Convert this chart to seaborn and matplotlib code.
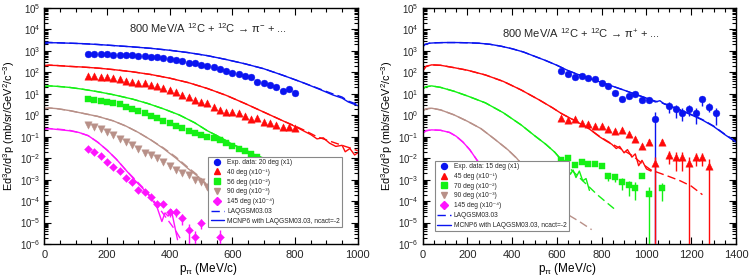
import numpy as np
import pandas as pd
import matplotlib
matplotlib.use("Agg")
import matplotlib.pyplot as plt
import seaborn as sns
from matplotlib.lines import Line2D
from matplotlib.ticker import MultipleLocator, LogLocator, NullFormatter

# ---------------- data (log10 of the cross sections) ----------------
# Left panel: pi-
L_p_exp20 = [140, 160, 180, 200, 220, 240, 260, 280, 300, 320, 340, 360, 380, 400, 420, 440, 460,
             480, 500, 520, 540, 560, 580, 600, 620, 640, 660, 680, 700, 720, 740, 760, 780, 800]
L_lg_exp20 = [2.85, 2.85, 2.85, 2.84, 2.82, 2.82, 2.80, 2.79, 2.76, 2.76, 2.73, 2.70, 2.66, 2.60, 2.57,
              2.51, 2.45, 2.42, 2.36, 2.29, 2.23, 2.17, 2.05, 1.95, 1.92, 1.83, 1.77, 1.56, 1.52, 1.41,
              1.33, 1.15, 1.24, 1.05]
L_p_exp40 = L_p_exp20
L_lg_exp40 = [1.84, 1.83, 1.80, 1.77, 1.72, 1.67, 1.60, 1.56, 1.52, 1.49, 1.41, 1.36, 1.25, 1.18, 1.10,
              0.94, 0.84, 0.71, 0.63, 0.56, 0.40, 0.25, 0.17, 0.17, 0.09, -0.03, -0.19, -0.14, -0.30,
              -0.37, -0.45, -0.53, -0.56, -0.61]
L_p_exp56 = [140, 160, 180, 200, 220, 240, 260, 280, 300, 320, 340, 360, 380, 400, 420, 440, 460,
             480, 500, 520, 540, 560, 580, 600, 620, 640, 660, 680]
L_lg_exp56 = [0.76, 0.71, 0.66, 0.62, 0.56, 0.51, 0.40, 0.29, 0.21, 0.09, -0.03, -0.14, -0.25, -0.37,
              -0.50, -0.61, -0.72, -0.84, -0.92, -0.99, -1.07, -1.17, -1.30, -1.42, -1.55, -1.68,
              -1.82, -1.95]
L_p_exp90 = [140, 160, 180, 200, 220, 240, 260, 280, 300, 320, 340, 360, 380, 400, 420, 440, 460,
             480, 500, 520]
L_lg_exp90 = [-0.45, -0.53, -0.65, -0.79, -0.92, -1.12, -1.23, -1.38, -1.58, -1.74, -1.85, -2.00,
              -2.20, -2.35, -2.54, -2.67, -2.78, -3.01, -3.09, -3.35]
L_p_exp145 = [140, 160, 180, 200, 220, 240, 260, 280, 300, 320, 340, 360, 380, 400, 420, 440, 460,
              480, 500, 560]
L_lg_exp145 = [-1.57, -1.72, -1.92, -2.19, -2.39, -2.59, -2.93, -3.12, -3.47, -3.58, -3.82, -4.13,
               -4.13, -4.53, -4.53, -4.79, -5.37, -5.68, -5.00, -5.65]
L_rel_exp145 = [0, 0, 0, 0, 0, 0, 0, 0, 0, 0, 0, 0, 0.3, 0.4, 0.4, 0.5, 1.0, 1.0, 0.5, 1.0]

# model curves, left
L_p_m20 = [0, 15, 40, 80, 120, 170, 220, 280, 340, 400, 460, 520, 580, 640, 700, 760, 820, 880, 920,
           950, 970, 1000]
L_lg_mc20 = [3.32, 3.38, 3.38, 3.36, 3.34, 3.30, 3.25, 3.19, 3.12, 3.03, 2.92, 2.78, 2.60, 2.40, 2.17,
             1.87, 1.55, 1.20, 0.95, 0.80, 0.62, 0.45]
L_lg_lq20 = [3.40, 3.40, 3.38, 3.36, 3.34, 3.30, 3.25, 3.19, 3.12, 3.03, 2.92, 2.78, 2.60, 2.40, 2.17,
             1.87, 1.55, 1.22, 1.00, 0.85, 0.66, 0.50]
L_p_m40 = [0, 15, 40, 80, 120, 170, 220, 280, 340, 400, 460, 520, 580, 640, 700, 760, 800, 830, 850,
           870, 890, 910, 930, 950, 960, 975, 990, 1000]
L_lg_mc40 = [2.30, 2.33, 2.32, 2.28, 2.25, 2.20, 2.13, 2.03, 1.90, 1.73, 1.52, 1.25, 0.93, 0.55, 0.15,
             -0.25, -0.52, -0.75, -0.90, -1.10, -1.05, -1.30, -1.45, -1.40, -1.70, -1.55, -1.85, -1.75]
L_lg_lq40 = [2.32, 2.34, 2.32, 2.28, 2.25, 2.20, 2.13, 2.03, 1.90, 1.73, 1.52, 1.25, 0.93, 0.55, 0.15,
             -0.25, -0.50, -0.70, -0.85, -1.00, -1.10, -1.20, -1.30, -1.40, -1.45, -1.52, -1.60, -1.65]
L_p_m56 = [0, 15, 40, 80, 120, 170, 220, 280, 330, 380, 430, 480, 520, 560, 600, 640, 680, 700, 720]
L_lg_mc56 = [1.33, 1.37, 1.35, 1.30, 1.22, 1.10, 0.96, 0.76, 0.55, 0.30, 0.02, -0.35, -0.72, -1.02,
             -1.35, -1.62, -1.90, -2.05, -2.20]
L_lg_lq56 = [1.35, 1.37, 1.35, 1.30, 1.22, 1.10, 0.96, 0.76, 0.55, 0.30, 0.02, -0.35, -0.72, -1.02,
             -1.35, -1.62, -1.88, -2.00, -2.15]
L_p_m90 = [0, 15, 40, 80, 120, 170, 220, 260, 300, 340, 380, 420, 460, 490, 520, 540]
L_lg_mc90 = [0.30, 0.34, 0.31, 0.22, 0.10, -0.05, -0.26, -0.50, -0.80, -1.15, -1.55, -2.00, -2.50,
             -2.85, -3.30, -3.55]
L_lg_lq90 = [0.32, 0.34, 0.31, 0.22, 0.10, -0.05, -0.26, -0.50, -0.80, -1.15, -1.52, -1.95, -2.45,
             -2.80, -3.25, -3.50]
L_p_mc145 = [0, 15, 40, 80, 110, 140, 170, 200, 230, 260, 290, 320, 340, 360, 375, 385, 395, 405, 415,
             425]
L_lg_mc145 = [-0.66, -0.62, -0.66, -0.72, -0.80, -0.95, -1.25, -1.62, -2.05, -2.55, -3.05, -3.50,
              -3.85, -4.30, -4.95, -4.55, -4.70, -4.40, -5.10, -5.80]
L_p_lq145 = [0, 15, 40, 80, 110, 140, 170, 200, 230, 260, 290, 320, 340, 360, 380, 400, 420, 440]
L_lg_lq145 = [-0.62, -0.62, -0.64, -0.70, -0.80, -0.95, -1.25, -1.62, -2.05, -2.55, -3.00, -3.45,
              -3.80, -4.20, -4.60, -5.00, -5.40, -5.90]

# Right panel: pi+
R_p_exp15 = [620, 650, 680, 710, 740, 770, 800, 830, 860, 890, 920, 950, 980, 1010, 1040, 1100, 1130,
             1160, 1190, 1220, 1250, 1280, 1310]
R_lg_exp15 = [2.06, 1.92, 1.80, 1.83, 1.72, 1.67, 1.50, 1.36, 1.02, 0.74, 0.90, 0.98, 0.71, 0.69,
              -0.15, 0.42, 0.28, 0.12, 0.28, 0.12, 0.74, 0.40, 0.09]
R_rel_exp15 = [0, 0, 0, 0, 0, 0, 0, 0, 0, 0.2, 0, 0.2, 0.2, 0.2, 1.0, 0.5, 0.6, 0.6, 0.5, 0.7, 0.5,
               0.45, 0.7]
R_p_exp45 = [620, 650, 680, 710, 740, 770, 800, 830, 860, 890, 920, 950, 980, 1010, 1040, 1070, 1100,
             1130, 1160, 1190, 1220, 1250, 1280]
R_lg_exp45 = [-0.12, -0.20, -0.18, -0.34, -0.40, -0.50, -0.52, -0.62, -0.74, -0.68, -0.87, -1.10,
              -1.43, -1.23, -2.23, -1.23, -1.85, -1.95, -1.95, -2.23, -1.95, -1.95, -2.36]
R_rel_exp45 = [0, 0, 0, 0, 0, 0, 0, 0, 0, 0, 0, 0.2, 0, 0.3, 1.0, 0.3, 0.6, 0.78, 0.78, 1.0, 0.6, 0.6,
               1.0]
R_p_exp70 = [620, 650, 680, 710, 740, 770, 800, 830, 860, 890, 920, 950, 980, 1010, 1070]
R_lg_exp70 = [-2.10, -2.00, -2.31, -2.20, -2.26, -2.27, -2.36, -2.82, -2.88, -3.12, -3.27, -3.37,
              -2.82, -3.66, -3.40]
R_rel_exp70 = [0, 0, 0, 0, 0, 0, 0, 0.4, 0.4, 0.56, 0.68, 0.74, 0, 1.0, 0.74]

R_p_m15 = [0, 10, 30, 60, 100, 150, 200, 250, 300, 350, 400, 450, 500, 550, 600, 650, 700, 750, 800,
           850, 900, 950, 1000, 1040, 1060, 1080, 1100, 1150, 1200, 1250, 1300, 1350, 1400]
R_lg_mc15 = [3.18, 3.30, 3.36, 3.38, 3.39, 3.39, 3.38, 3.36, 3.31, 3.22, 3.10, 2.95, 2.75, 2.55, 2.33,
             2.08, 1.88, 1.70, 1.53, 1.35, 1.17, 0.98, 0.80, 0.62, 0.68, 0.52, 0.46, 0.24, 0.02, -0.22,
             -0.52, -0.90, -1.25]
R_lg_lq15 = [3.22, 3.30, 3.36, 3.38, 3.39, 3.39, 3.38, 3.36, 3.31, 3.22, 3.10, 2.95, 2.75, 2.55, 2.33,
             2.08, 1.88, 1.70, 1.53, 1.35, 1.17, 0.98, 0.80, 0.66, 0.60, 0.54, 0.48, 0.26, 0.04, -0.20,
             -0.50, -0.88, -1.22]
R_p_mc45 = [0, 15, 40, 80, 140, 200, 280, 360, 440, 520, 580, 620, 680, 740, 790, 820, 845, 865, 880,
            900, 915, 935, 950, 965, 980, 1000, 1020]
R_lg_mc45 = [2.05, 2.28, 2.35, 2.33, 2.22, 2.10, 1.88, 1.58, 1.18, 0.72, 0.35, 0.08, -0.25, -0.60,
             -1.00, -1.20, -1.35, -1.55, -1.45, -1.75, -1.60, -1.95, -1.80, -2.35, -2.10, -2.50, -2.60]
R_p_lq45 = [0, 15, 40, 80, 140, 200, 280, 360, 440, 520, 580, 620, 680, 740, 790, 840, 900, 940, 980,
            1020, 1060, 1100, 1150, 1200, 1250]
R_lg_lq45 = [2.10, 2.28, 2.35, 2.33, 2.22, 2.10, 1.88, 1.58, 1.18, 0.72, 0.35, 0.08, -0.25, -0.60,
             -0.98, -1.30, -1.65, -1.90, -2.25, -2.55, -2.70, -2.85, -3.05, -3.30, -3.70]
R_p_mc70 = [0, 15, 40, 80, 140, 200, 280, 360, 440, 500, 550, 590, 610, 625, 635, 650, 660, 672, 685,
            700, 715, 730, 745]
R_lg_mc70 = [1.22, 1.33, 1.37, 1.30, 1.12, 0.90, 0.58, 0.12, -0.45, -0.95, -1.35, -1.72, -1.95, -2.25,
             -2.10, -2.50, -2.75, -2.55, -2.90, -2.60, -3.05, -2.95, -3.50]
R_p_lq70 = [0, 15, 40, 80, 140, 200, 280, 360, 440, 500, 550, 590, 620, 660, 700, 740, 780, 820, 855]
R_lg_lq70 = [1.25, 1.33, 1.37, 1.30, 1.12, 0.90, 0.58, 0.12, -0.45, -0.95, -1.35, -1.72, -2.10, -2.50,
             -2.90, -3.30, -3.70, -4.05, -4.35]
R_p_mc90 = [0, 15, 40, 80, 140, 200, 260, 320, 380, 420, 460, 500, 540, 580, 620]
R_lg_mc90 = [0.20, 0.30, 0.33, 0.25, 0.02, -0.28, -0.62, -1.10, -1.60, -2.00, -2.50, -3.00, -3.50,
             -3.95, -4.40]
R_p_lq90 = [0, 15, 40, 80, 140, 200, 260, 320, 380, 420, 460, 500, 540, 580, 620, 660, 700, 755]
R_lg_lq90 = [0.22, 0.30, 0.33, 0.25, 0.02, -0.28, -0.62, -1.10, -1.60, -2.00, -2.50, -3.00, -3.50,
             -3.95, -4.40, -4.70, -4.95, -5.33]
R_p_m145 = [0, 15, 40, 80, 120, 150, 180, 210, 240, 270, 310, 350, 390, 430]
R_lg_mc145 = [-0.85, -0.72, -0.68, -0.70, -0.80, -0.98, -1.25, -1.60, -2.05, -2.50, -3.10, -3.70,
              -4.25, -4.85]
R_lg_lq145 = [-0.82, -0.72, -0.68, -0.70, -0.80, -0.98, -1.25, -1.60, -2.05, -2.50, -3.10, -3.70,
              -4.25, -4.85]

# ---------------- style ----------------
sns.set_theme(style="ticks")
plt.rcParams['font.family'] = ['Liberation Sans', 'DejaVu Sans']
plt.rcParams['mathtext.fontset'] = 'custom'
plt.rcParams['mathtext.rm'] = 'Liberation Sans'
plt.rcParams['mathtext.it'] = 'Liberation Sans:italic'
plt.rcParams['mathtext.bf'] = 'Liberation Sans:bold'
plt.rcParams['mathtext.sf'] = 'Liberation Sans'

BLUE = '#0a14f0'
RED = '#ff0a0a'
GREEN = '#14f014'
BROWN = '#b89088'
MAGENTA = '#ff14ff'
DASH = (0, (6, 3))
LW = 1.0


def draw_line(ax, p, lg, color, style):
    df = pd.DataFrame({"p": p, "y": np.power(10.0, np.array(lg))})
    sns.lineplot(data=df, x="p", y="y", ax=ax, color=color, linewidth=LW, linestyle=style,
                 estimator=None, sort=False, legend=False, zorder=2)


def draw_exp(ax, p, lg, color, marker, size, rel=None):
    v = np.power(10.0, np.array(lg))
    p = np.array(p, dtype=float)
    if rel is not None:
        r = np.array(rel, dtype=float)
        m = r > 0
        lo = np.where(r >= 1.0, v - 1e-8, v * r)
        hi = v * r
        ax.errorbar(p[m], v[m], yerr=[lo[m], hi[m]], fmt='none', ecolor=color, elinewidth=1.0,
                    capsize=0, zorder=3)
    df = pd.DataFrame({"p": p, "y": v})
    sns.scatterplot(data=df, x="p", y="y", ax=ax, marker=marker, s=size, color=color,
                    edgecolor=color, linewidth=0.3, zorder=4, legend=False)


fig = plt.figure(figsize=(7.5, 2.79), dpi=100)
axL = fig.add_axes([0.0591, 0.1254, 0.4179, 0.8459])
axR = fig.add_axes([0.5636, 0.1254, 0.4177, 0.8459])

for ax in (axL, axR):
    ax.set_yscale('log')

# left panel
draw_line(axL, L_p_m20, L_lg_lq20, BLUE, DASH)
draw_line(axL, L_p_m20, L_lg_mc20, BLUE, '-')
draw_line(axL, L_p_m40, L_lg_lq40, RED, DASH)
draw_line(axL, L_p_m40, L_lg_mc40, RED, '-')
draw_line(axL, L_p_m56, L_lg_lq56, GREEN, DASH)
draw_line(axL, L_p_m56, L_lg_mc56, GREEN, '-')
draw_line(axL, L_p_m90, L_lg_lq90, BROWN, DASH)
draw_line(axL, L_p_m90, L_lg_mc90, BROWN, '-')
draw_line(axL, L_p_lq145, L_lg_lq145, MAGENTA, DASH)
draw_line(axL, L_p_mc145, L_lg_mc145, MAGENTA, '-')
draw_exp(axL, L_p_exp20, L_lg_exp20, BLUE, 'o', 24)
draw_exp(axL, L_p_exp40, L_lg_exp40, RED, '^', 28)
draw_exp(axL, L_p_exp56, L_lg_exp56, GREEN, 's', 18)
draw_exp(axL, L_p_exp90, L_lg_exp90, BROWN, 'v', 28)
draw_exp(axL, L_p_exp145, L_lg_exp145, MAGENTA, 'D', 16, L_rel_exp145)

# right panel
draw_line(axR, R_p_m15, R_lg_lq15, BLUE, DASH)
draw_line(axR, R_p_m15, R_lg_mc15, BLUE, '-')
draw_line(axR, R_p_lq45, R_lg_lq45, RED, DASH)
draw_line(axR, R_p_mc45, R_lg_mc45, RED, '-')
draw_line(axR, R_p_lq70, R_lg_lq70, GREEN, DASH)
draw_line(axR, R_p_mc70, R_lg_mc70, GREEN, '-')
draw_line(axR, R_p_lq90, R_lg_lq90, BROWN, DASH)
draw_line(axR, R_p_mc90, R_lg_mc90, BROWN, '-')
draw_line(axR, R_p_m145, R_lg_lq145, MAGENTA, DASH)
draw_line(axR, R_p_m145, R_lg_mc145, MAGENTA, '-')
draw_exp(axR, R_p_exp15, R_lg_exp15, BLUE, 'o', 24, R_rel_exp15)
draw_exp(axR, R_p_exp45, R_lg_exp45, RED, '^', 28, R_rel_exp45)
draw_exp(axR, R_p_exp70, R_lg_exp70, GREEN, 's', 18, R_rel_exp70)

for ax, xmax in ((axL, 1000), (axR, 1400)):
    ax.set_xlim(0, xmax)
    ax.set_ylim(1e-6, 1e5)
    ax.xaxis.set_major_locator(MultipleLocator(200))
    ax.xaxis.set_minor_locator(MultipleLocator(50))
    ax.yaxis.set_major_locator(LogLocator(base=10, numticks=30))
    ax.yaxis.set_minor_locator(LogLocator(base=10, subs=np.arange(2, 10), numticks=30))
    ax.yaxis.set_minor_formatter(NullFormatter())
    ax.tick_params(which='both', direction='in', top=True, right=True, width=0.8, color='black')
    ax.tick_params(which='major', length=5)
    ax.tick_params(which='minor', length=3)
    ax.tick_params(axis='x', labelsize=8, pad=4)
    ax.tick_params(axis='y', labelsize=7, pad=3)
    for s in ax.spines.values():
        s.set_color('black')
        s.set_linewidth(1.0)
    ax.set_ylabel("Ed$^{3}$σ/d$^{3}$p (mb/sr/GeV$^{2}$/c$^{-3}$)", fontsize=7.8, color='black')
    ax.set_xlabel("p$_{\\mathrm{π}}$ (MeV/c)", fontsize=8.5, color='black')

axL.yaxis.set_label_coords(-0.086, 0.5)
axR.yaxis.set_label_coords(-0.089, 0.5)
axL.xaxis.set_label_coords(0.522, -0.072)
axR.xaxis.set_label_coords(0.46, -0.072)

axL.text(0.522, 0.914, "800 MeV/A $^{12}$C + $^{12}$C → π$^{-}$ + ...", transform=axL.transAxes,
         ha='center', va='center', fontsize=8)
axR.text(0.504, 0.895, "800 MeV/A $^{12}$C + $^{12}$C → π$^{+}$ + ...", transform=axR.transAxes,
         ha='center', va='center', fontsize=8)


def make_legend(ax, labels, anchor):
    handles = [
        Line2D([], [], ls='none', marker='o', color=BLUE, markersize=4.3),
        Line2D([], [], ls='none', marker='^', color=RED, markersize=4.6),
        Line2D([], [], ls='none', marker='s', color=GREEN, markersize=3.8),
        Line2D([], [], ls='none', marker='v', color=BROWN, markersize=4.6),
        Line2D([], [], ls='none', marker='D', color=MAGENTA, markersize=3.6),
        Line2D([], [], color=BLUE, ls=DASH, lw=LW),
        Line2D([], [], color=BLUE, ls='-', lw=LW),
    ]
    leg = ax.legend(handles, labels, loc='upper left', bbox_to_anchor=anchor,
                    prop={'family': ['Liberation Sans', 'DejaVu Sans'], 'size': 4.8},
                    frameon=True, fancybox=False, edgecolor='#888888', framealpha=1,
                    borderpad=0.35, labelspacing=0.42, handlelength=2.0, handletextpad=0.5,
                    borderaxespad=0)
    leg.get_frame().set_linewidth(0.8)
    leg.set_zorder(10)


make_legend(axL, ['Exp. data: 20 deg (x1)', '40 deg (x10⁻¹)', '56 deg (x10⁻²)',
                  '90 deg (x10⁻³)', '145 deg (x10⁻⁴)', 'LAQGSM03.03',
                  'MCNP6 with LAQGSM03.03, ncact=-2'], (0.523, 0.370))
make_legend(axR, ['Exp. data: 15 deg (x1)', '45 deg (x10⁻¹)', '70 deg (x10⁻²)',
                  '90 deg (x10⁻³)', '145 deg (x10⁻⁴)', 'LAQGSM03.03',
                  'MCNP6 with LAQGSM03.03, ncact=-2'], (0.039, 0.353))

fig.savefig('out.png', dpi=100)
